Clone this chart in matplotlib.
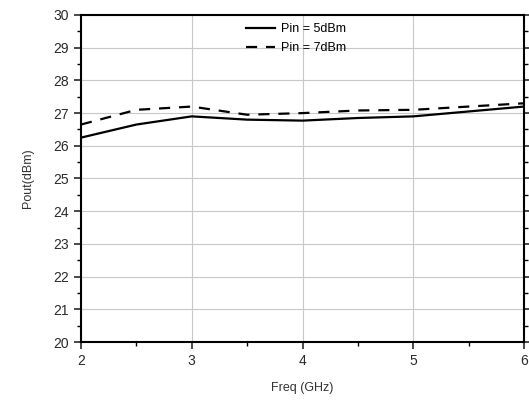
import matplotlib.pyplot as plt
from matplotlib.ticker import MultipleLocator

plt.rcParams['font.family'] = ['Liberation Sans', 'DejaVu Sans']

freq = [2, 2.5, 3, 3.5, 4, 4.5, 5, 5.5, 6]
pout_5dbm = [26.25, 26.65, 26.9, 26.8, 26.77, 26.85, 26.9, 27.05, 27.2]
pout_7dbm = [26.65, 27.1, 27.2, 26.95, 27.0, 27.08, 27.1, 27.2, 27.3]

fig = plt.figure(figsize=(5.29, 4.01), dpi=100)
ax = fig.add_axes([81 / 529, 1 - 342 / 401, (524 - 81) / 529, (342 - 15) / 401])

ax.plot(freq, pout_5dbm, color='black', linestyle='-', linewidth=1.6, label='Pin = 5dBm')
ax.plot(freq, pout_7dbm, color='black', linestyle=(0, (5, 4)), linewidth=1.6, label='Pin = 7dBm')

ax.set_xlim(2, 6)
ax.set_ylim(20, 30)
ax.xaxis.set_major_locator(MultipleLocator(1))
ax.xaxis.set_minor_locator(MultipleLocator(0.5))
ax.yaxis.set_major_locator(MultipleLocator(1))
ax.yaxis.set_minor_locator(MultipleLocator(0.5))
ax.tick_params(which='major', direction='out', length=5, width=1.2, labelsize=10, colors='#2a2a2a')
ax.tick_params(which='minor', direction='out', length=3, width=1)
ax.tick_params(right=True, which='both', direction='out')
ax.grid(True, which='major', color='#c8c8c8', linewidth=0.8)
for s in ax.spines.values():
    s.set_linewidth(1.5)

ax.set_xlabel('Freq (GHz)', fontsize=9, color='#333333', labelpad=10)
ax.set_ylabel('Pout(dBm)', fontsize=9, color='#333333', labelpad=14)

ax.legend(loc='upper center', bbox_to_anchor=(0.485, 1.01), frameon=False, fontsize=9,
          handlelength=2.3, handletextpad=0.5, labelspacing=0.6)

fig.savefig('out.png', dpi=100)
